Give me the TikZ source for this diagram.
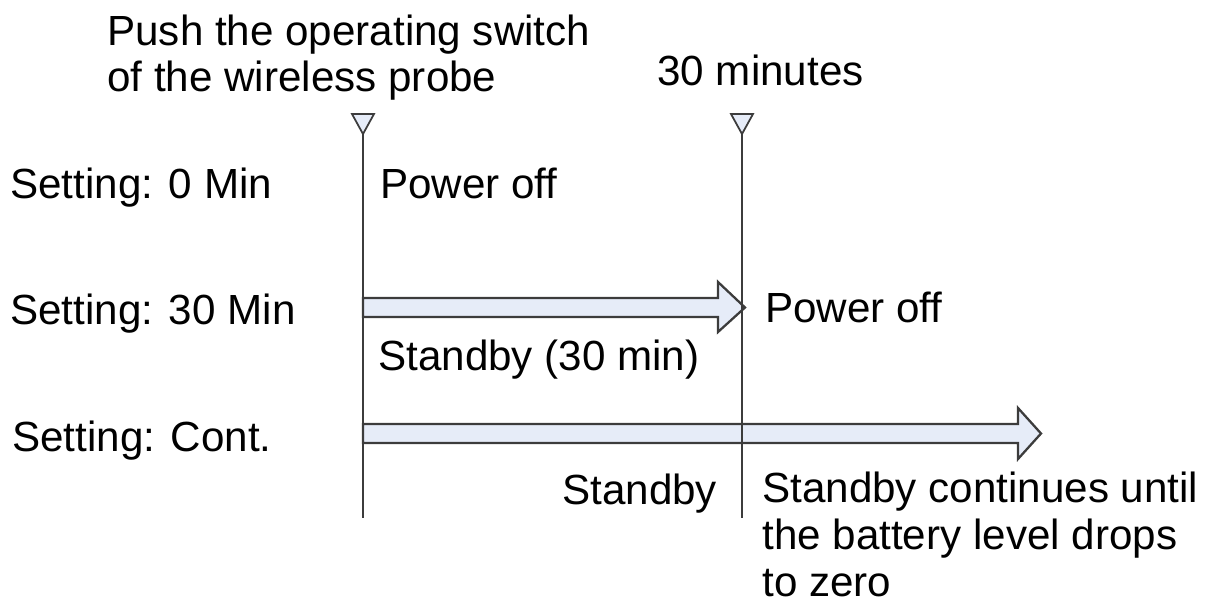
\documentclass[tikz,border=0pt]{standalone}
\usepackage{fontspec}
\setmainfont{Liberation Sans}
\definecolor{arrowfill}{RGB}{230,236,248}
\definecolor{linegray}{RGB}{60,60,60}
\begin{document}
\begin{tikzpicture}[x=0.02cm, y=-0.02cm,
    every node/.style={font=\fontsize{24}{26.5}\selectfont, inner sep=0pt, anchor=base west, align=left},
    timeline/.style={draw=linegray, line width=1pt},
    marker/.style={draw=linegray, fill=arrowfill, line width=1pt, line join=miter},
    fatarrow/.style={draw=linegray, fill=arrowfill, line width=1.3pt, line join=miter}]
  \useasboundingbox (0,0) rectangle (1206,604);
  % time marks
  \coordinate (t0) at (363,134);
  \coordinate (t0end) at (363,518);
  \coordinate (t30) at (742,134);
  \coordinate (t30end) at (742,518);
  % multi-line nodes sit on the baseline of their last line
  \node (push) at (107,92) {Push the operating switch\\of the wireless probe};
  \node (min30) at (657,86) {30 minutes};
  % setting rows
  \node (set0) at (10,199) {Setting: 0 Min};
  \node (off0) at (380,199) {Power off};
  \node (set30) at (10,324) {Setting: 30 Min};
  \node (off30) at (765,322) {Power off};
  \node (stby30) at (378,370) {Standby (30 min)};
  \node (setc) at (12,451) {Setting: Cont.};
  \node (stbyc) at (562,504) {Standby};
  \node (contc) at (762,596) {Standby continues until\\the battery level drops\\to zero};
  % arrows
  \draw[fatarrow] (363,298) -- (718,298) -- (718,282) -- (745,307.5) -- (718,332)
    -- (718,317) -- (363,317) -- cycle;
  \draw[fatarrow] (363,424) -- (1018,424) -- (1018,408) -- (1041,433.5) -- (1018,459)
    -- (1018,443) -- (363,443) -- cycle;
  % time lines
  \foreach \t in {t0,t30} {
    \draw[timeline] (\t) -- (\t end);
    \draw[marker] (\t) -- ++(-11,-20) -- ++(22,0) -- cycle;
  }
\end{tikzpicture}
\end{document}
